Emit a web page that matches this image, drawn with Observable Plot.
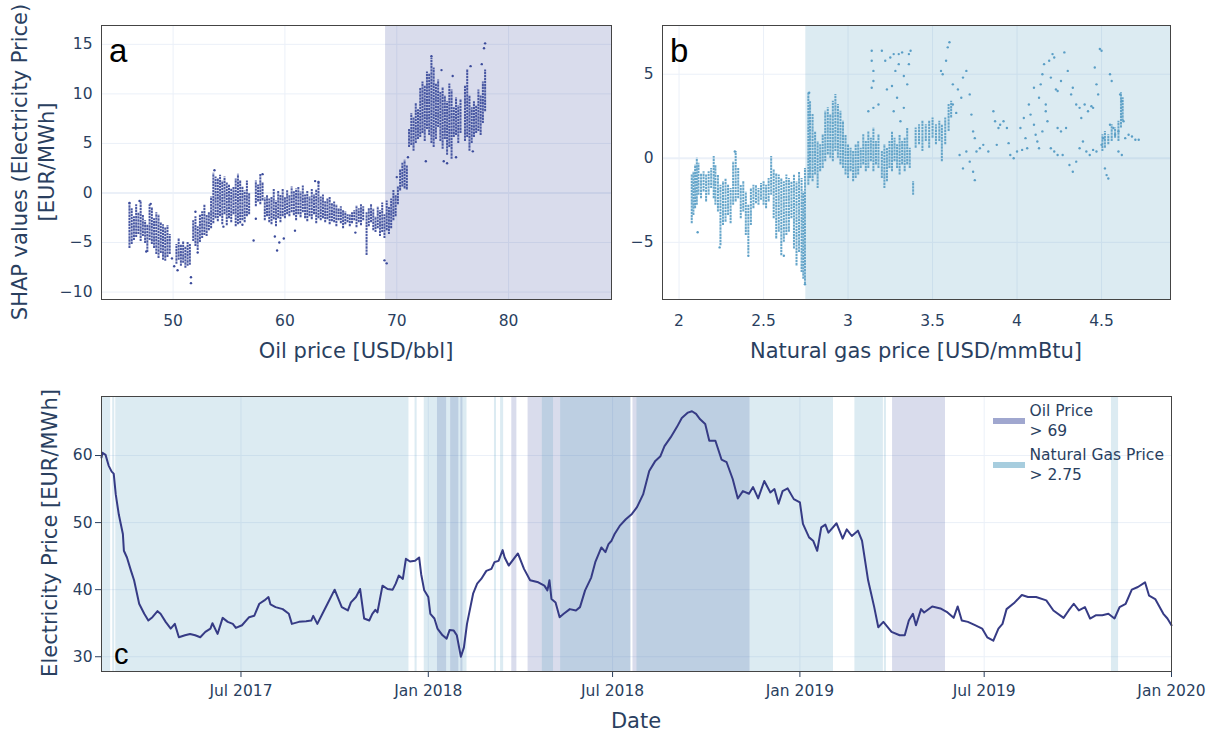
<!DOCTYPE html>
<html>
<head>
<meta charset="utf-8">
<script src="https://cdn.jsdelivr.net/npm/d3@7"></script>
<script src="https://cdn.jsdelivr.net/npm/@observablehq/plot@0.6"></script>
<style>
  html, body { margin: 0; padding: 0; background: #fff; }
  #root { position: relative; width: 1213px; height: 733px; font-family: "DejaVu Sans", sans-serif; color: #2a3f5f; overflow: hidden; }
  .abs { position: absolute; white-space: nowrap; }
  .ctr { transform: translate(-50%, -50%); line-height: 1; }
  .rot { transform: translate(-50%, -50%) rotate(-90deg); text-align: center; }
  .title { font-size: 21px; }
  .panel-label { font-family: "Liberation Sans", Arial, sans-serif; color: #000; line-height: 1; }
  .leg { font-size: 15.5px; }
</style>
</head>
<body>
<div id="root">
  <div id="pa" class="abs" style="left:0;top:0"></div>
  <div id="pb" class="abs" style="left:620px;top:0"></div>
  <div id="pc" class="abs" style="left:0;top:370px"></div>
</div>
<script>
// ---------------- Data ----------------
// Panel a: SHAP values vs oil price (dense vertical streaks + scattered points)
const oilThreshold = 69;
const gasThreshold = 2.75;

const oilStreakPrice = [46.1,46.3,46.5,46.7,46.9,47.1,47.3,47.5,47.7,47.9,48.1,48.3,48.5,48.7,48.9,49.1,49.3,49.5,49.7,
  50.3,50.5,50.7,50.9,51.1,51.3,51.5,51.8,52.0,52.2,52.4,52.6,52.8,53.0,53.2,53.4,53.6,53.8,54.0,54.2,54.4,54.6,54.8,
  55.0,55.2,55.4,55.6,55.8,56.0,56.2,56.4,56.6,56.8,57.4,57.6,57.8,58.0,58.2,58.4,58.6,58.8,59.0,59.2,59.4,59.6,59.8,
  60.0,60.2,60.4,60.6,60.8,61.0,61.2,61.4,61.6,61.8,62.0,62.2,62.4,62.6,62.8,63.0,63.2,63.4,63.6,63.8,64.0,64.2,64.4,
  64.6,64.8,65.0,65.2,65.4,65.6,65.8,66.0,66.2,66.4,66.6,66.8,67.0,67.3,67.5,67.7,67.9,68.1,68.3,68.5,68.7,68.9,69.1,
  69.3,69.5,69.7,69.9,70.1,70.3,70.5,70.7,70.9,71.1,71.3,71.5,71.7,71.9,72.1,72.3,72.5,72.7,72.9,73.1,73.3,73.5,73.7,
  73.9,74.1,74.3,74.5,74.7,74.9,75.1,75.3,75.5,75.7,76.1,76.3,76.5,76.7,76.9,77.1,77.3,77.5,77.7,77.9];
const oilStreakLow = [-5.6,-5.2,-4.8,-4.5,-4.2,-4.9,-4.4,-5.1,-6.0,-4.8,-5.2,-5.6,-6.2,-6.6,-6.1,-6.8,-6.9,-6.5,-6.2,
  -7.2,-6.8,-7.4,-7.1,-7.6,-7.4,-7.3,-4.9,-5.4,-5.8,-5.0,-4.6,-4.3,-4.4,-3.8,-3.6,-3.1,-2.6,-2.9,-2.4,-3.2,-2.2,-3.3,
  -2.6,-3.0,-2.2,-3.4,-3.2,-3.1,-2.8,-3.0,-2.4,-2.2,-1.4,-0.9,-1.2,-0.8,-2.8,-2.4,-3.0,-3.2,-2.7,-3.4,-2.6,-3.0,-2.4,
  -2.6,-2.2,-2.4,-2.0,-2.3,-2.8,-2.2,-2.5,-2.0,-2.6,-2.9,-2.4,-2.7,-2.2,-3.1,-2.6,-2.8,-2.6,-3.0,-2.7,-3.2,-2.9,-3.0,
  -3.4,-2.8,-3.1,-3.6,-3.2,-3.0,-3.4,-3.1,-2.8,-3.5,-3.0,-3.3,-2.8,-6.3,-3.4,-3.0,-3.8,-4.0,-3.6,-4.4,-4.0,-4.6,-3.8,
  -4.2,-3.6,-2.8,-2.4,-1.2,0.2,0.6,0.4,0.3,4.6,4.8,4.2,5.0,5.4,5.6,6.0,5.2,6.4,5.8,5.0,4.6,5.4,6.6,
  5.2,4.4,5.4,3.8,4.6,3.4,5.6,5.8,5.0,6.0,5.2,5.6,4.2,5.0,5.6,6.0,6.2,5.8,7.0,8.2];
const oilStreakHigh = [-1.0,-1.6,-2.4,-1.2,-2.0,-0.8,-2.2,-2.8,-3.2,-1.2,-1.5,-2.6,-2.0,-2.2,-3.0,-3.2,-3.5,-3.3,-4.2,
  -5.2,-4.6,-5.2,-4.9,-5.4,-5.0,-5.2,-2.8,-2.4,-3.4,-2.2,-1.9,-1.2,-2.2,-2.0,-0.4,2.0,1.6,1.4,1.8,1.2,1.6,1.0,
  0.8,0.4,0.6,1.4,1.9,1.2,0.6,0.2,1.2,0.0,1.2,0.8,1.9,1.0,-0.5,-0.2,-0.6,-0.4,0.4,-0.8,0.2,-0.2,0.4,
  -0.4,0.3,-0.2,0.6,0.2,0.4,0.6,0.1,0.7,-0.2,0.2,-0.4,0.4,-0.2,0.3,1.1,-0.4,-0.2,-0.8,-0.6,-0.4,-1.0,-0.9,
  -1.2,-1.6,-1.4,-1.8,-1.9,-2.2,-2.2,-2.0,-1.8,-1.3,-1.6,-1.2,-1.4,-2.0,-1.6,-1.2,-1.6,-2.4,-1.4,-1.8,-1.0,-2.2,-0.8,
  -1.4,-0.6,0.3,-0.2,0.6,2.4,3.0,3.3,2.8,6.4,8.0,7.6,9.0,8.4,10.6,11.2,10.8,12.2,12.0,13.6,12.6,11.0,11.4,
  10.2,10.6,9.8,9.2,11.0,10.4,8.6,9.6,8.8,9.4,10.8,12.4,9.8,8.6,9.2,8.8,10.4,9.8,11.2,12.4];

const oilDotPrice = [46.1,47.0,47.6,48.0,49.9,50.1,50.4,51.6,51.6,52.0,52.2,53.7,54.5,56.2,57.2,57.4,58.0,59.1,59.3,59.5,
  59.9,60.9,62.7,63.0,66.3,68.9,69.1,70.0,72.6,73.1,74.2,74.5,75.3,76.8,76.6,77.8,77.9,77.6,71.0,75.0,74.0];
const oilDotShap = [-1.0,-0.8,-5.9,-1.1,-6.6,-7.4,-7.8,-8.5,-9.1,-1.9,-6.0,2.3,-3.4,-3.2,-4.8,-2.6,1.9,-4.4,-5.8,-5.0,
  -4.6,-3.8,1.2,1.1,-4.0,-6.8,-7.1,1.6,3.2,13.8,3.2,3.0,3.6,4.2,12.8,14.6,15.1,13.0,3.6,11.8,12.4];

// Panel b: SHAP values vs natural gas price
const gasStreakPrice = [2.075,2.085,2.095,2.105,2.115,2.13,2.145,2.16,2.175,2.19,2.205,2.215,2.23,2.245,2.26,2.275,2.29,
  2.305,2.32,2.335,2.35,2.365,2.38,2.395,2.41,2.425,2.44,2.455,2.47,2.485,2.50,2.515,2.53,2.545,2.56,2.575,2.59,2.605,
  2.62,2.635,2.65,2.665,2.68,2.695,2.71,2.725,2.735,2.745,2.765,2.775,2.79,2.805,2.82,2.835,2.85,2.865,2.88,2.895,2.91,
  2.925,2.94,2.955,2.97,2.985,3.0,3.015,3.03,3.045,3.06,3.075,3.09,3.105,3.12,3.135,3.15,3.165,3.18,3.2,3.215,3.23,
  3.245,3.26,3.275,3.29,3.305,3.32,3.335,3.35,3.365,3.385,3.40,3.42,3.44,3.46,3.48,3.50,3.52,3.54,3.555,3.575,3.595,
  3.61,4.505,4.52,4.54,4.56,4.58,4.60,4.615,4.625];
const gasStreakLow = [-3.9,-3.4,-3.0,-2.8,-2.2,-2.4,-2.0,-2.6,-2.2,-1.8,-2.4,-2.8,-3.2,-5.2,-4.0,-3.8,-3.4,
  -3.9,-2.8,-2.6,-2.4,-3.6,-3.2,-4.6,-5.7,-4.0,-3.0,-2.7,-2.8,-2.5,-2.8,-3.0,-2.6,-2.2,-3.6,-4.8,-4.4,-5.8,
  -5.0,-4.6,-4.4,-3.6,-5.4,-6.4,-5.6,-6.8,-7.2,-7.5,-1.6,-1.2,-1.4,-1.0,-1.8,-0.8,-0.6,-0.2,0.2,0.0,-0.2,
  0.4,0.0,-0.4,-0.6,-1.0,-1.2,-0.8,-1.4,-1.2,-1.0,-0.6,-0.4,-0.8,-0.6,-0.2,-0.8,-0.4,-0.6,-1.2,-1.8,-1.4,
  -0.6,-0.8,-0.2,-0.6,-1.0,-0.4,-0.8,-0.4,-0.6,-2.2,0.6,0.8,0.4,1.0,0.6,1.2,0.8,1.0,-0.2,0.8,1.6,
  2.4,0.4,0.6,0.8,1.0,1.2,1.0,1.8,2.2];
const gasStreakHigh = [-1.0,-0.8,-0.4,0.0,-0.3,-0.9,-0.8,-1.0,-0.8,-0.6,0.1,-0.4,-1.0,-1.6,-1.4,-1.2,-1.6,
  -1.8,-0.2,0.4,-0.6,-1.6,-1.4,-2.0,-2.8,-1.8,-1.6,-1.6,-1.8,-1.5,-1.4,-1.6,-1.2,0.1,-0.7,-0.9,-1.0,-1.2,
  -1.4,-1.0,-1.2,-1.4,-1.0,-1.4,-0.8,-1.2,-2.0,-0.6,3.9,3.4,2.6,1.6,1.0,0.8,1.4,2.8,3.0,2.6,3.4,
  3.8,3.2,2.8,2.2,1.4,0.8,0.6,0.4,0.8,1.0,0.6,1.4,1.0,1.6,1.2,1.8,1.0,1.4,0.4,0.8,0.6,
  1.0,1.6,1.2,0.8,1.4,1.0,1.2,1.8,0.6,-1.4,1.8,2.0,2.2,2.0,2.2,2.4,2.0,2.2,2.0,2.4,3.2,
  3.4,1.4,1.6,1.4,2.0,1.8,2.2,3.9,3.6];

const gasDotPrice = [3.14,3.14,3.15,3.15,3.14,3.2,3.22,3.25,3.27,3.3,3.32,3.36,3.37,3.23,3.26,3.28,3.3,3.33,3.35,3.36,
  3.33,3.31,3.29,3.27,3.12,3.15,3.18,
  3.55,3.56,3.58,3.59,3.6,3.62,3.65,3.67,3.68,3.7,3.72,3.73,3.74,3.75,3.62,3.64,3.66,3.68,3.7,3.72,3.74,3.75,3.76,3.78,3.8,
  3.86,3.87,3.89,3.9,3.92,3.94,3.96,3.98,4.0,3.95,3.88,3.83,
  4.02,4.04,4.05,4.07,4.08,4.1,4.12,4.13,4.15,4.16,4.14,4.17,4.18,4.19,4.2,4.21,4.22,4.23,4.24,4.1,4.11,4.13,4.15,4.17,
  4.2,4.22,4.24,4.06,4.03,
  4.26,4.28,4.3,4.32,4.33,4.35,4.37,4.38,4.4,4.42,4.44,4.45,4.46,4.47,4.48,4.49,4.5,4.27,4.29,4.31,4.33,4.35,4.37,4.39,
  4.41,4.43,4.45,4.47,4.26,4.24,
  4.5,4.51,4.52,4.53,4.54,4.55,4.56,4.57,4.58,4.6,4.61,4.62,4.63,4.64,4.66,4.68,4.7,4.72,4.62,4.6,4.55,
  2.11,2.24,2.33,2.41,2.62,2.745,2.77];
const gasDotShap = [6.4,5.8,5.2,4.6,4.2,6.4,5.8,6.0,6.2,6.2,6.3,6.2,6.4,4.1,4.3,5.2,5.6,4.9,4.4,5.6,
  3.0,2.2,3.6,2.8,2.8,3.0,3.2,
  5.2,5.0,5.8,6.6,6.9,4.4,4.1,3.6,4.8,5.2,3.8,2.6,1.6,1.2,3.2,2.7,0.2,-0.6,0.4,-0.2,-0.8,-1.3,0.4,0.6,0.8,
  2.8,2.2,1.8,2.0,2.2,1.8,0.2,0.0,0.4,0.9,0.8,0.4,
  1.8,2.4,1.2,3.2,2.6,2.0,1.0,3.6,5.0,5.6,4.4,3.2,2.2,5.8,4.8,6.2,6.0,4.1,4.0,4.2,1.4,0.6,1.6,2.8,
  0.6,0.4,0.2,0.6,0.5,
  4.6,6.3,5.2,3.8,4.2,3.2,3.0,2.4,3.2,2.8,3.1,3.0,5.4,4.4,3.8,6.5,6.4,0.2,1.8,-0.4,-0.8,-0.2,0.6,1.0,
  0.4,0.2,0.5,0.4,1.6,1.8,
  0.8,1.2,-0.6,-1.0,-1.2,5.0,4.6,1.8,1.4,1.6,3.8,3.4,2.2,1.2,1.4,1.3,1.1,1.1,0.2,0.4,2.0,
  -4.4,-5.3,0.4,-5.8,-5.8,-7.5,3.9];

// Panel c: electricity price over time
const elecDates = ["2017-02-14","2017-02-15","2017-02-18","2017-02-21","2017-02-24","2017-02-26","2017-02-28","2017-03-03",
  "2017-03-07","2017-03-08","2017-03-11","2017-03-15","2017-03-18","2017-03-23","2017-03-28","2017-04-01","2017-04-05",
  "2017-04-10","2017-04-13","2017-04-18","2017-04-23","2017-04-27","2017-05-01","2017-05-07","2017-05-12","2017-05-17",
  "2017-05-22","2017-05-27","2017-06-01","2017-06-03","2017-06-08","2017-06-13","2017-06-18","2017-06-23","2017-06-26",
  "2017-07-02","2017-07-09","2017-07-14","2017-07-19","2017-07-24","2017-07-28","2017-07-30","2017-08-04","2017-08-11",
  "2017-08-17","2017-08-20","2017-08-27","2017-09-03","2017-09-08","2017-09-10","2017-09-14","2017-09-19","2017-09-24",
  "2017-10-01","2017-10-04","2017-10-08","2017-10-14","2017-10-17","2017-10-22","2017-10-26","2017-10-30","2017-11-04",
  "2017-11-07","2017-11-10","2017-11-12","2017-11-17","2017-11-22","2017-11-27","2017-11-30","2017-12-03","2017-12-07",
  "2017-12-10","2017-12-14","2017-12-19","2017-12-23","2017-12-25","2017-12-28","2018-01-01","2018-01-03","2018-01-07",
  "2018-01-10","2018-01-15","2018-01-19","2018-01-22","2018-01-26","2018-01-29","2018-02-02","2018-02-05","2018-02-08",
  "2018-02-14","2018-02-18","2018-02-22","2018-02-27","2018-03-04","2018-03-07","2018-03-11","2018-03-15","2018-03-17",
  "2018-03-21","2018-03-30","2018-04-05","2018-04-11","2018-04-19","2018-04-25","2018-04-28","2018-04-30","2018-05-02",
  "2018-05-06","2018-05-10","2018-05-14","2018-05-20","2018-05-26","2018-05-30","2018-06-04","2018-06-10","2018-06-14",
  "2018-06-20","2018-06-24","2018-06-27","2018-06-30","2018-07-03","2018-07-08","2018-07-14","2018-07-20","2018-07-25",
  "2018-07-31","2018-08-06","2018-08-12","2018-08-17","2018-08-21","2018-08-27","2018-09-02","2018-09-07","2018-09-13",
  "2018-09-17","2018-09-21","2018-09-25","2018-09-30","2018-10-04","2018-10-10","2018-10-16","2018-10-21","2018-10-27",
  "2018-11-01","2018-11-06","2018-11-12","2018-11-16","2018-11-21","2018-11-27","2018-12-03","2018-12-07","2018-12-11",
  "2018-12-15","2018-12-20","2018-12-26","2019-01-01","2019-01-04","2019-01-10","2019-01-14","2019-01-18","2019-01-22",
  "2019-01-26","2019-01-29","2019-02-06","2019-02-12","2019-02-16","2019-02-21","2019-02-27","2019-03-03","2019-03-09",
  "2019-03-15","2019-03-19","2019-03-24","2019-04-01","2019-04-09","2019-04-14","2019-04-18","2019-04-22","2019-04-25",
  "2019-04-30","2019-05-03","2019-05-11","2019-05-19","2019-05-26","2019-06-01","2019-06-05","2019-06-09","2019-06-15",
  "2019-06-22","2019-06-29","2019-07-04","2019-07-10","2019-07-15","2019-07-19","2019-07-23","2019-07-31","2019-08-07",
  "2019-08-13","2019-08-21","2019-08-31","2019-09-07","2019-09-17","2019-09-22","2019-09-27","2019-10-02","2019-10-08",
  "2019-10-13","2019-10-19","2019-10-25","2019-10-31","2019-11-06","2019-11-11","2019-11-17","2019-11-23","2019-11-29",
  "2019-12-06","2019-12-10","2019-12-16","2019-12-24","2019-12-28","2020-01-01"];
const elecPrices = [59.7,60.4,60.1,58.5,57.6,57.3,54.2,51.2,
  48.3,45.8,44.8,42.8,41.4,37.9,36.4,35.4,35.9,
  36.8,36.4,35.2,34.2,34.9,32.9,33.2,33.4,33.2,
  32.9,33.7,34.2,35.0,33.4,35.8,35.2,34.9,34.3,
  34.7,35.9,36.1,37.9,38.4,38.9,37.8,37.4,37.1,
  36.4,34.9,35.2,35.3,35.4,36.1,34.9,36.4,37.9,
  40.0,38.9,37.4,36.9,38.1,38.9,40.1,35.7,35.4,
  36.4,37.0,36.6,40.6,40.1,40.0,40.9,42.1,41.6,
  44.6,44.2,44.3,44.8,42.3,39.9,38.9,36.4,35.7,
  34.2,33.2,32.7,34.0,33.9,33.2,30.0,31.4,34.9,
  39.4,40.9,41.6,42.8,43.1,44.1,44.3,45.9,44.8,
  43.6,45.4,43.1,41.4,41.1,40.6,39.9,41.4,38.6,
  38.1,35.9,36.4,37.1,36.9,37.4,39.9,41.8,44.1,
  46.3,45.6,46.8,47.3,48.3,49.5,50.5,51.3,52.3,
  54.2,57.7,59.2,59.9,61.4,62.7,64.2,65.6,66.4,
  66.6,66.2,65.4,64.7,62.2,62.2,59.4,59.0,56.5,
  53.6,54.7,54.3,55.3,53.6,56.2,54.5,55.0,52.8,
  54.7,55.1,53.5,53.0,49.8,47.8,47.3,45.8,49.3,
  49.7,48.5,49.9,47.6,49.0,48.0,48.8,47.3,41.4,
  37.4,34.4,35.2,33.7,33.2,33.2,35.4,36.4,34.7,
  37.1,36.6,37.5,37.2,36.6,35.8,37.5,35.4,35.2,
  34.7,34.2,32.9,32.4,34.2,34.9,37.1,38.1,39.2,
  38.9,38.9,38.4,36.9,35.8,36.9,37.9,36.9,37.4,
  35.7,36.2,36.2,36.4,35.7,37.4,37.9,40.0,40.4,
  41.1,39.1,38.6,36.4,35.7,34.7];

// Periods with oil price > 69 and natural gas price > 2.75
const oilBandStart = ["2018-01-10","2018-01-23","2018-02-02","2018-03-24","2018-04-09","2018-07-21","2019-04-02"];
const oilBandEnd   = ["2018-01-19","2018-01-31","2018-02-04","2018-03-29","2018-07-19","2018-11-13","2019-05-24"];
const gasBandStart = ["2017-02-14","2017-02-25","2017-02-28","2017-12-19","2017-12-28","2018-03-07","2018-03-13",
  "2018-04-23","2018-05-11","2018-07-25","2019-02-24","2019-03-25","2019-11-03"];
const gasBandEnd   = ["2017-02-23","2017-02-27","2017-12-13","2017-12-21","2018-02-08","2018-03-09","2018-03-16",
  "2018-05-04","2018-07-19","2019-02-03","2019-03-24","2019-03-27","2019-11-10"];

// Axes
const oilDomain = [43.6, 89.2], shapDomainA = [-10.75, 16.9];
const gasDomain = [1.902, 4.908], shapDomainB = [-8.4, 7.9];
const dateDomain = ["2017-02-14", "2020-01-01"], priceDomain = [27.8, 68.8];
const oilTicks = [50, 60, 70, 80], shapTicksA = [-10, -5, 0, 5, 10, 15];
const gasTicks = [2, 2.5, 3, 3.5, 4, 4.5], shapTicksB = [-5, 0, 5];
const dateTicks = ["2017-07-01", "2018-01-01", "2018-07-01", "2019-01-01", "2019-07-01", "2020-01-01"];
const priceTicks = [30, 40, 50, 60];

// ---------------- Styles ----------------
const textColor = "#2a3f5f";
const gridColor = "#ebf0f8";
const oilFill = "#4150a0", gasFill = "#509bbe";
const oilDotColor = "#3b4b9b", gasDotColor = "#5a9ec6", lineColor = "#363b85";
const frameColor = "#444";
const minusFmt = d => (d < 0 ? "\u2212" + Math.abs(d) : String(d));
const baseStyle = {fontFamily: "DejaVu Sans, sans-serif", fontSize: "15.5px", color: textColor, background: "transparent", overflow: "visible"};

const toDate = s => new Date(s + "T00:00:00Z");

// ---------------- Panel a ----------------
const oilStreaks = oilStreakPrice.map((x, i) => ({x, lo: oilStreakLow[i], hi: oilStreakHigh[i]}));
const oilDots = oilDotPrice.map((x, i) => ({x, y: oilDotShap[i]}));

const plotA = Plot.plot({
  width: 620, height: 370, marginLeft: 101, marginRight: 9, marginTop: 25, marginBottom: 71,
  style: baseStyle,
  x: {domain: oilDomain, ticks: oilTicks, tickSize: 0, tickPadding: 15, label: null},
  y: {domain: shapDomainA, ticks: shapTicksA, tickSize: 0, tickPadding: 9, label: null, tickFormat: minusFmt},
  marks: [
    Plot.ruleX(oilTicks, {stroke: gridColor, strokeWidth: 1}),
    Plot.ruleY(shapTicksA, {stroke: gridColor, strokeWidth: d => d === 0 ? 2 : 1}),
    Plot.rect([{x1: oilThreshold, x2: oilDomain[1]}], {x1: "x1", x2: "x2", fill: oilFill, fillOpacity: 0.2}),
    Plot.ruleX(oilStreaks, {x: "x", y1: "lo", y2: "hi", stroke: oilDotColor, strokeWidth: 2, strokeOpacity: 0.92, strokeDasharray: "2.4,0.7"}),
    Plot.dot(oilDots, {x: "x", y: "y", r: 1.2, fill: oilDotColor, stroke: "none"}),
    Plot.frame({stroke: frameColor, strokeWidth: 1})
  ]
});
document.getElementById("pa").appendChild(plotA);

// ---------------- Panel b ----------------
const gasStreaks = gasStreakPrice.map((x, i) => ({x, lo: gasStreakLow[i], hi: gasStreakHigh[i]}));
const gasDots = gasDotPrice.map((x, i) => ({x, y: gasDotShap[i]}));

const plotB = Plot.plot({
  width: 593, height: 370, marginLeft: 42, marginRight: 43, marginTop: 25, marginBottom: 71,
  style: baseStyle,
  x: {domain: gasDomain, ticks: gasTicks, tickSize: 0, tickPadding: 15, label: null, tickFormat: d => String(d)},
  y: {domain: shapDomainB, ticks: shapTicksB, tickSize: 0, tickPadding: 9, label: null, tickFormat: minusFmt},
  marks: [
    Plot.ruleX(gasTicks, {stroke: gridColor, strokeWidth: 1}),
    Plot.ruleY(shapTicksB, {stroke: gridColor, strokeWidth: d => d === 0 ? 2 : 1}),
    Plot.rect([{x1: gasThreshold, x2: gasDomain[1]}], {x1: "x1", x2: "x2", fill: gasFill, fillOpacity: 0.2}),
    Plot.ruleX(gasStreaks, {x: "x", y1: "lo", y2: "hi", stroke: gasDotColor, strokeWidth: 2, strokeOpacity: 0.92, strokeDasharray: "2.4,0.7"}),
    Plot.dot(gasDots, {x: "x", y: "y", r: 1.2, fill: gasDotColor, stroke: "none"}),
    Plot.frame({stroke: frameColor, strokeWidth: 1})
  ]
});
document.getElementById("pb").appendChild(plotB);

// ---------------- Panel c ----------------
const elec = elecDates.map((d, i) => ({date: toDate(d), price: elecPrices[i]}));
const oilBands = oilBandStart.map((s, i) => ({x1: toDate(s), x2: toDate(oilBandEnd[i])}));
const gasBands = gasBandStart.map((s, i) => ({x1: toDate(s), x2: toDate(gasBandEnd[i])}));
const dateTickValues = dateTicks.map(toDate);

const plotC = Plot.plot({
  width: 1213, height: 363, marginLeft: 101, marginRight: 42, marginTop: 26, marginBottom: 62,
  style: baseStyle,
  x: {type: "utc", domain: dateDomain.map(toDate), ticks: dateTickValues, tickSize: 6, tickPadding: 7, label: null,
      tickFormat: d3.utcFormat("%b %Y")},
  y: {domain: priceDomain, ticks: priceTicks, tickSize: 6, tickPadding: 3, label: null},
  marks: [
    Plot.ruleX(dateTickValues, {stroke: gridColor, strokeWidth: 1}),
    Plot.ruleY(priceTicks, {stroke: gridColor, strokeWidth: 1}),
    Plot.rect(oilBands, {x1: "x1", x2: "x2", fill: oilFill, fillOpacity: 0.2}),
    Plot.rect(gasBands, {x1: "x1", x2: "x2", fill: gasFill, fillOpacity: 0.2}),
    Plot.line(elec, {x: "date", y: "price", stroke: lineColor, strokeWidth: 2, curve: "linear"}),
    Plot.frame({stroke: frameColor, strokeWidth: 1})
  ]
});
document.getElementById("pc").appendChild(plotC);

// ---------------- Titles, labels, legend ----------------
const root = document.getElementById("root");
function addDiv(cls, style, html) {
  const d = document.createElement("div");
  d.className = cls;
  d.setAttribute("style", style);
  d.innerHTML = html;
  root.appendChild(d);
  return d;
}
addDiv("abs rot title", "left:34px;top:162px;line-height:27px;", "SHAP values (Electricity Price)<br>[EUR/MWh]");
addDiv("abs ctr title", "left:356px;top:351px;", "Oil price [USD/bbl]");
addDiv("abs ctr title", "left:916px;top:351px;", "Natural gas price [USD/mmBtu]");
addDiv("abs rot title", "left:50px;top:533px;line-height:1;", "Electricity Price [EUR/MWh]");
addDiv("abs ctr title", "left:636px;top:721px;", "Date");

addDiv("abs panel-label", "left:109px;top:34px;font-size:33px;", "a");
addDiv("abs panel-label", "left:670px;top:34px;font-size:33px;", "b");
addDiv("abs panel-label", "left:114px;top:640px;font-size:29px;", "c");

// legend
addDiv("abs", "left:993px;top:417.5px;width:32px;height:6px;background:" + oilFill + ";opacity:0.5;", "");
addDiv("abs", "left:993px;top:461.5px;width:32px;height:6px;background:" + gasFill + ";opacity:0.5;", "");
addDiv("abs leg", "left:1029.5px;top:401px;line-height:20px;", "Oil Price<br>&gt; 69");
addDiv("abs leg", "left:1029.5px;top:444.5px;line-height:20px;", "Natural Gas Price<br>&gt; 2.75");
</script>
</body>
</html>
